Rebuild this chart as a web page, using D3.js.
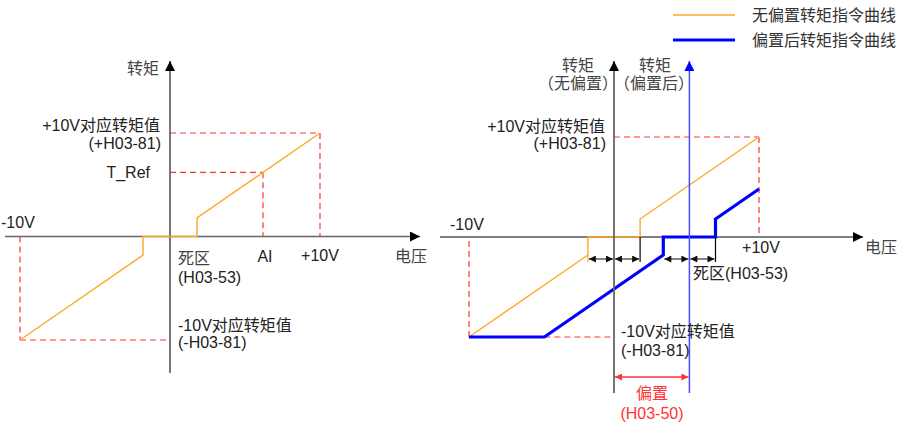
<!DOCTYPE html>
<html>
<head>
<meta charset="utf-8">
<script src="https://cdn.jsdelivr.net/npm/d3@7"></script>
<style>
  html, body { margin: 0; padding: 0; background: #fff; }
  svg { display: block; }
  text { font-family: "Liberation Sans", Arial, "Noto Sans CJK SC", sans-serif; font-size: 16px; fill: #222; }
</style>
</head>
<body>
<svg id="chart" width="899" height="424"></svg>
<script>
// ---------------- DATA ----------------
// Voltage (V) / torque (% of H03-81) breakpoints
const noBiasVoltage = [-10, -1.8, -1.8, 1.8, 1.8, 10];
const noBiasTorque  = [-100, -18, 0, 0, 18, 100];
const biasVoltage   = [-10, -4.8, 3.4, 3.4, 7.0, 7.0, 10];
const biasTorque    = [-100, -100, -18, 0, 0, 18, 48];
const deadZoneV = 1.8;      // H03-53
const offsetV   = 5.2;      // H03-50
const maxTorque = 100;      // H03-81
const aiVoltage = 6.2;
const tRefTorque = 62;
const legendLabels = ["无偏置转矩指令曲线", "偏置后转矩指令曲线"];

// ---------------- STYLE / LAYOUT ----------------
const ORANGE = "#FFA726", BLUE = "#0000FF", RED = "#FF3333";
const svg = d3.select("#chart");
const defs = svg.append("defs");
function marker(id, color, w, h) {
  defs.append("marker").attr("id", id).attr("viewBox", "0 0 10 10")
    .attr("refX", 10).attr("refY", 5).attr("markerUnits", "userSpaceOnUse")
    .attr("markerWidth", w).attr("markerHeight", h).attr("orient", "auto-start-reverse")
    .append("path").attr("d", "M0,0 L10,5 L0,10 Z").attr("fill", color);
}
marker("arrBlack", "#000", 12, 10);
marker("arrBlue", BLUE, 12, 10);
marker("arrSmall", "#111", 8, 7);
marker("arrRed", RED, 8, 7);

const pts = (vs, ts) => vs.map((v, i) => [v, ts[i]]);

// ---- LEFT CHART ----
const xL = d3.scaleLinear().domain([-10, 10]).range([20, 320]);
const yL = d3.scaleLinear().domain([-100, 100]).range([340, 133]);
const gL = svg.append("g");

// dashed guides
const dash = "6,4";
function dashed(g, x1, y1, x2, y2) {
  g.append("line").attr("x1", x1).attr("y1", y1).attr("x2", x2).attr("y2", y2)
    .attr("stroke", RED).attr("stroke-width", 1.2).attr("stroke-dasharray", dash);
}
dashed(gL, xL(0), yL(maxTorque), xL(10), yL(maxTorque));
dashed(gL, xL(10), yL(maxTorque), xL(10), yL(0));
dashed(gL, xL(0), yL(tRefTorque), xL(aiVoltage), yL(tRefTorque));
dashed(gL, xL(aiVoltage), yL(tRefTorque), xL(aiVoltage), yL(0));
dashed(gL, xL(-10), yL(0), xL(-10), yL(-maxTorque));
dashed(gL, xL(-10), yL(-maxTorque), xL(0), yL(-maxTorque));

// axes
gL.append("line").attr("x1", 5).attr("y1", yL(0)).attr("x2", 420).attr("y2", yL(0))
  .attr("stroke", "#666").attr("stroke-width", 1.6).attr("marker-end", "url(#arrBlack)");
gL.append("line").attr("x1", xL(0)).attr("y1", 373).attr("x2", xL(0)).attr("y2", 61)
  .attr("stroke", "#555").attr("stroke-width", 1.6).attr("marker-end", "url(#arrBlack)");

const lineL = d3.line().x(d => xL(d[0])).y(d => yL(d[1]));
gL.append("path").attr("d", lineL(pts(noBiasVoltage, noBiasTorque)))
  .attr("fill", "none").attr("stroke", ORANGE).attr("stroke-width", 1.4);

function txt(g, x, y, s, anchor, color) {
  return g.append("text").attr("x", x).attr("y", y).attr("text-anchor", anchor || "start")
    .style("fill", color || "#222").text(s);
}
txt(gL, 159, 74, "转矩", "end", "#444");
txt(gL, 160, 131, "+10V对应转矩值", "end");
txt(gL, 161, 149, "(+H03-81)", "end");
txt(gL, 150, 178, "T_Ref", "end");
txt(gL, 1, 228, "-10V");
txt(gL, 178, 264, "死区", "start", "#444");
txt(gL, 178, 283, "(H03-53)");
txt(gL, xL(aiVoltage) + 2, 262, "AI", "middle");
txt(gL, xL(10), 261, "+10V", "middle");
txt(gL, 395, 262, "电压", "start", "#444");
txt(gL, 178, 331, "-10V对应转矩值");
txt(gL, 178, 348, "(-H03-81)");

// ---- RIGHT CHART ----
const xR = d3.scaleLinear().domain([-10, 10]).range([469, 759]);
const yR = d3.scaleLinear().domain([-100, 100]).range([337, 137]);
const gR = svg.append("g");

dashed(gR, xR(0), yR(maxTorque), xR(10), yR(maxTorque));
dashed(gR, xR(10), yR(maxTorque), xR(10), yR(0));
dashed(gR, xR(-10), yR(0) + 4, xR(-10), yR(-maxTorque));
dashed(gR, xR(-4.8), yR(-maxTorque), xR(0), yR(-maxTorque));

// horizontal axis
gR.append("line").attr("x1", 440).attr("y1", yR(0)).attr("x2", 863).attr("y2", yR(0))
  .attr("stroke", "#000").attr("stroke-width", 1.2).attr("marker-end", "url(#arrBlack)");

// curves
const lineR = d3.line().x(d => xR(d[0])).y(d => yR(d[1]));
gR.append("path").attr("d", lineR(pts(noBiasVoltage, noBiasTorque)))
  .attr("fill", "none").attr("stroke", ORANGE).attr("stroke-width", 1.4);
gR.append("path").attr("d", lineR(pts(biasVoltage, biasTorque)))
  .attr("fill", "none").attr("stroke", BLUE).attr("stroke-width", 3.2);

// vertical axes
gR.append("line").attr("x1", xR(0)).attr("y1", 393).attr("x2", xR(0)).attr("y2", 61)
  .attr("stroke", "#666").attr("stroke-width", 1.8).attr("marker-end", "url(#arrBlack)");
gR.append("line").attr("x1", xR(offsetV)).attr("y1", 393).attr("x2", xR(offsetV)).attr("y2", 61)
  .attr("stroke", "#4A4AFF").attr("stroke-width", 1.5).attr("marker-end", "url(#arrBlue)");

// dead-zone dimension lines
const dimY = 259;
[deadZoneV, offsetV + deadZoneV].forEach(v => {
  gR.append("line").attr("x1", xR(v)).attr("y1", yR(0)).attr("x2", xR(v)).attr("y2", dimY + 3)
    .attr("stroke", "#000").attr("stroke-width", 1.2);
});
gR.append("line").attr("x1", xR(-deadZoneV)).attr("y1", yR(-18)).attr("x2", xR(-deadZoneV)).attr("y2", dimY + 3)
  .attr("stroke", ORANGE).attr("stroke-width", 1.2);
[[-deadZoneV, 0], [0, deadZoneV], [offsetV - deadZoneV, offsetV], [offsetV, offsetV + deadZoneV]].forEach(([a, b]) => {
  gR.append("line").attr("x1", xR(a) + 1).attr("y1", dimY).attr("x2", xR(b) - 1).attr("y2", dimY)
    .attr("stroke", "#333").attr("stroke-width", 1.2)
    .attr("marker-start", "url(#arrSmall)").attr("marker-end", "url(#arrSmall)");
});

// offset arrow
gR.append("line").attr("x1", xR(0) + 1).attr("y1", 377).attr("x2", xR(offsetV) - 1).attr("y2", 377)
  .attr("stroke", RED).attr("stroke-width", 1.3)
  .attr("marker-start", "url(#arrRed)").attr("marker-end", "url(#arrRed)");

txt(gR, 578, 71, "转矩", "middle", "#444");
txt(gR, 578, 89, "（无偏置）", "middle", "#444");
txt(gR, 655, 71, "转矩", "middle", "#444");
txt(gR, 654, 89, "（偏置后）", "middle", "#444");
txt(gR, 605, 132, "+10V对应转矩值", "end");
txt(gR, 606, 149, "(+H03-81)", "end");
txt(gR, 450, 230, "-10V");
txt(gR, xR(10) + 2, 253, "+10V", "middle");
txt(gR, 865, 253, "电压", "start", "#444");
txt(gR, 693, 279, "死区(H03-53)");
txt(gR, 621, 337, "-10V对应转矩值");
txt(gR, 621, 356, "(-H03-81)");
txt(gR, 652, 399, "偏置", "middle", RED);
txt(gR, 652, 419, "(H03-50)", "middle", RED);

// ---- LEGEND ----
const gLeg = svg.append("g");
const legColors = [ORANGE, BLUE], legWidths = [1.4, 3.2];
legendLabels.forEach((s, i) => {
  const y = 15 + i * 25;
  gLeg.append("line").attr("x1", 673).attr("y1", y).attr("x2", 735).attr("y2", y)
    .attr("stroke", legColors[i]).attr("stroke-width", legWidths[i]);
  txt(gLeg, 752, y + 6, s, "start", "#333");
});
</script>
</body>
</html>
